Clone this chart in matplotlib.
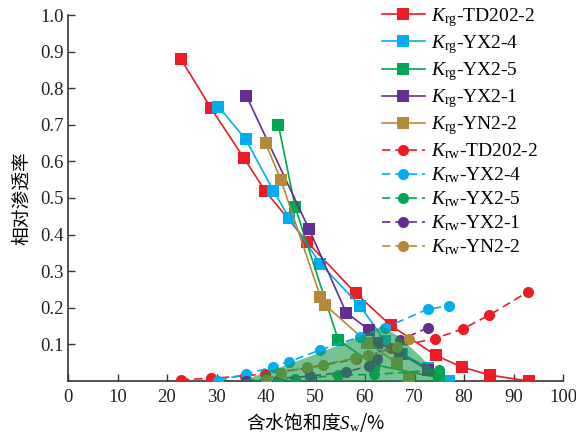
import matplotlib
matplotlib.use("Agg")
import matplotlib.pyplot as plt

plt.rcParams["font.family"] = ["Liberation Serif", "Noto Sans CJK SC", "DejaVu Sans"]
plt.rcParams["mathtext.fontset"] = "custom"
plt.rcParams["mathtext.rm"] = "Liberation Serif"
plt.rcParams["mathtext.it"] = "Liberation Serif:italic"

# Gas relative permeability (Krg) per core sample
krg_td202_2_sw = [22.8, 28.9, 35.5, 39.8, 48.3, 58.1, 65.2, 74.3, 79.6, 85.3, 93.1]
krg_td202_2 = [0.88, 0.745, 0.61, 0.52, 0.38, 0.24, 0.152, 0.07, 0.038, 0.016, 0.0]

krg_yx2_4_sw = [30.4, 35.9, 41.5, 44.7, 51.0, 59.0, 64.0, 67.5, 72.8, 77.0]
krg_yx2_4 = [0.75, 0.66, 0.52, 0.445, 0.32, 0.205, 0.11, 0.075, 0.035, 0.0]

krg_yx2_5_sw = [42.5, 45.9, 54.6, 61.8, 75.0]
krg_yx2_5 = [0.70, 0.475, 0.112, 0.045, 0.008]

krg_yx2_1_sw = [36.0, 48.7, 56.2, 60.9, 62.4, 67.1, 72.8]
krg_yx2_1 = [0.78, 0.415, 0.187, 0.139, 0.105, 0.075, 0.03]

krg_yn2_2_sw = [39.9, 43.0, 51.0, 51.9, 60.5, 66.5, 68.9]
krg_yn2_2 = [0.65, 0.55, 0.23, 0.208, 0.105, 0.048, 0.012]

# Water relative permeability (Krw) per core sample
krw_td202_2_sw = [22.8, 28.8, 35.8, 39.8, 48.3, 58.1, 65.2, 74.1, 79.7, 85.1, 93.0]
krw_td202_2 = [0.004, 0.007, 0.014, 0.02, 0.035, 0.06, 0.09, 0.116, 0.142, 0.18, 0.244]

krw_yx2_4_sw = [30.4, 36.0, 41.5, 44.7, 51.0, 59.0, 64.1, 72.8, 77.0]
krw_yx2_4 = [0.001, 0.019, 0.039, 0.053, 0.085, 0.121, 0.146, 0.197, 0.205]

krw_yx2_5_sw = [42.5, 45.9, 54.6, 61.8, 75.0]
krw_yx2_5 = [0.003, 0.005, 0.016, 0.018, 0.03]

krw_yx2_1_sw = [36.0, 48.8, 56.2, 60.9, 62.4, 67.1, 72.8]
krw_yx2_1 = [0.001, 0.013, 0.025, 0.041, 0.06, 0.112, 0.146]

krw_yn2_2_sw = [40.0, 43.0, 48.2, 51.6, 58.0, 60.7, 66.4, 68.9]
krw_yn2_2 = [0.003, 0.021, 0.037, 0.045, 0.062, 0.071, 0.092, 0.115]

# Shaded two-phase co-flow zone
zone_sw = [35.0, 45.0, 51.0, 58.0, 63.5, 67.0, 71.0, 76.0]
zone_k = [0.0, 0.048, 0.078, 0.115, 0.15, 0.12, 0.07, 0.0]

samples = ["TD202-2", "YX2-4", "YX2-5", "YX2-1", "YN2-2"]
colors = ["#ED1C24", "#00AEEF", "#00A651", "#662D91", "#B5893A"]

krg_sets = [(krg_td202_2_sw, krg_td202_2), (krg_yx2_4_sw, krg_yx2_4),
            (krg_yx2_5_sw, krg_yx2_5), (krg_yx2_1_sw, krg_yx2_1),
            (krg_yn2_2_sw, krg_yn2_2)]
krw_sets = [(krw_td202_2_sw, krw_td202_2), (krw_yx2_4_sw, krw_yx2_4),
            (krw_yx2_5_sw, krw_yx2_5), (krw_yx2_1_sw, krw_yx2_1),
            (krw_yn2_2_sw, krw_yn2_2)]

fig = plt.figure(figsize=(5.76, 4.34), dpi=100)
ax = fig.add_axes([68 / 576, 53 / 434, 495 / 576, 366 / 434])

for name, c, (sx, sy) in zip(samples, colors, krg_sets):
    ax.plot(sx, sy, "-", color=c, lw=1.2, marker="s", ms=8, mew=0,
            label=r"$K_{\mathrm{rg}}$-" + name, zorder=3)
for name, c, (sx, sy) in zip(samples, colors, krw_sets):
    ax.plot(sx, sy, "--", color=c, lw=1.2, dashes=(5, 3), marker="o", ms=8,
            mew=0, label=r"$K_{\mathrm{rw}}$-" + name, zorder=3)

ax.fill(zone_sw, zone_k, color="#119944", alpha=0.58, lw=0, zorder=4)

ax.set_xlim(0, 100)
ax.set_ylim(0, 1.0)
ax.set_xticks(range(0, 101, 10))
ax.set_yticks([0.1 * i for i in range(1, 11)])
ax.set_yticklabels([f"{0.1 * i:.1f}" for i in range(1, 11)])
ax.tick_params(direction="in", length=5, width=1, labelsize=13.5, colors="#333333",
               labelcolor="#222222")
ax.tick_params(axis="x", pad=6)
ax.tick_params(axis="y", pad=3)
for s in ["top", "right"]:
    ax.spines[s].set_visible(False)
for s in ["left", "bottom"]:
    ax.spines[s].set_color("#333333")
    ax.spines[s].set_linewidth(1.2)

ax.set_xlabel(r"含水饱和度$S_{\mathrm{w}}$/%", fontsize=13.5,
              family=["Noto Sans CJK SC", "DejaVu Sans"], labelpad=3)
ax.set_ylabel("相对渗透率", fontsize=13.5,
              family=["Noto Sans CJK SC", "DejaVu Sans"], labelpad=6)

ax.legend(loc="upper left", bbox_to_anchor=(378 / 576, 1 - 2 / 434),
          bbox_transform=fig.transFigure, frameon=False, fontsize=14,
          handlelength=2.2, handletextpad=0.3, labelspacing=0.22,
          borderpad=0.2, borderaxespad=0)

fig.savefig("out.png", dpi=100)
